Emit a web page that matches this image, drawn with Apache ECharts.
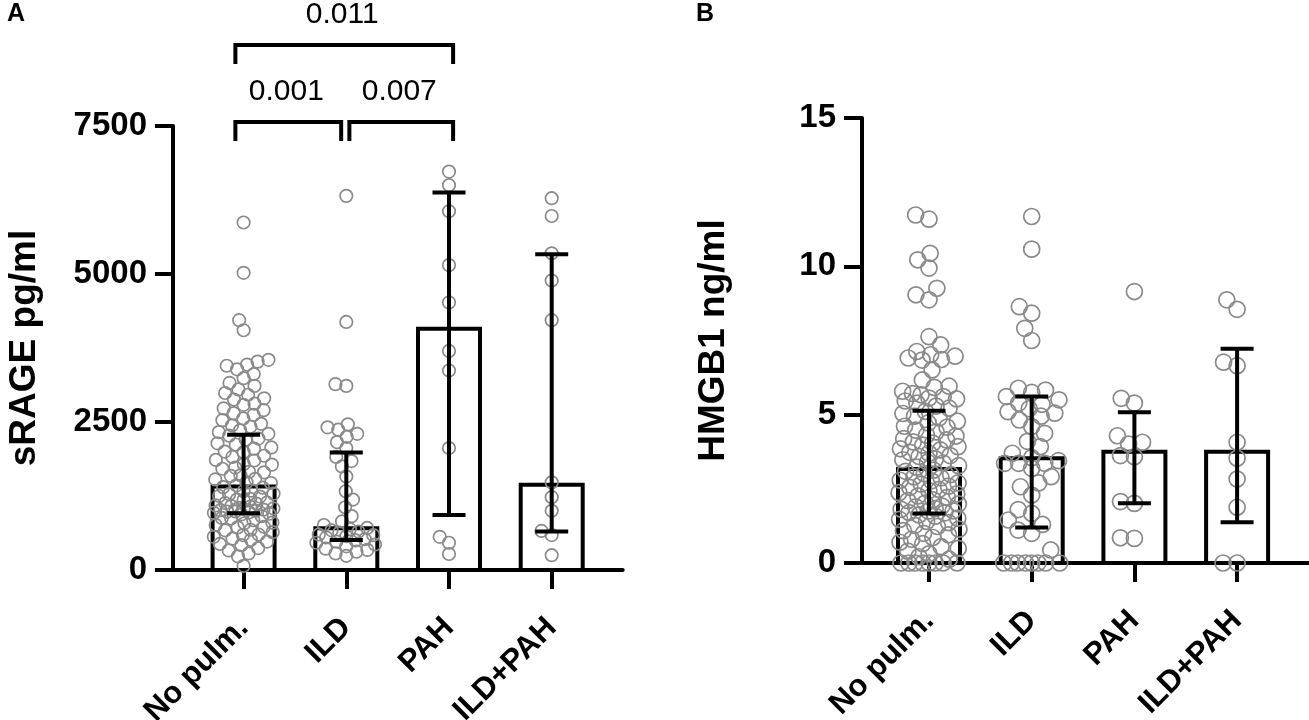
<!DOCTYPE html>
<html>
<head>
<meta charset="utf-8">
<script src="https://cdn.jsdelivr.net/npm/echarts@6/dist/echarts.min.js"></script>
<style>html,body{margin:0;padding:0;background:#fff}#c{width:1309px;height:720px}</style>
</head>
<body>
<div id="c"></div>
<script>
// ---------- data ----------
const categories = ['No pulm.', 'ILD', 'PAH', 'ILD+PAH'];

const srageTicks = [0, 2500, 5000, 7500];
const hmgbTicks = [0, 5, 10, 15];

const srageMedian = [1410, 706, 4075, 1439];
const srageLow = [960, 508, 931, 649];
const srageHigh = [2286, 1986, 6378, 5333];

const hmgbMedian = [3.17, 3.53, 3.75, 3.75];
const hmgbLow = [1.67, 1.20, 2.01, 1.37];
const hmgbHigh = [5.13, 5.61, 5.08, 7.22];

const srageNoPulm = [5870, 5020, 4220, 4050, 3550, 3520, 3470, 3450, 3390, 3310, 3240, 3160, 3110, 3050,
  2990, 2960, 2900, 2880, 2810, 2790, 2730, 2700, 2650, 2620, 2560, 2530, 2470, 2440, 2420, 2360, 2330, 2300,
  2270, 2220, 2200, 2140, 2120, 2070, 2050, 2000, 1990, 1930, 1910, 1860, 1850, 1790, 1780, 1730, 1710, 1660,
  1650, 1600, 1590, 1540, 1530, 1480, 1470, 1430, 1400, 1390, 1340, 1330, 1290, 1280, 1250, 1240, 1200, 1190,
  1180, 1140, 1130, 1120, 1090, 1080, 1070, 1050, 1040, 1030, 1020, 1010, 1000, 990, 985, 975, 965,
  950, 940, 910, 880, 870, 840, 800, 790, 760, 730, 720, 680, 670, 640, 600, 590, 560, 530, 510, 480,
  440, 420, 370, 330, 280, 230, 70];
const srageILD = [6320, 4190, 3140, 3110, 2460, 2410, 2370, 2300, 2250, 2160, 2060, 1910, 1840, 1750, 1580,
  1330, 1190, 1060, 910, 820, 760, 710, 690, 670, 650, 630, 600, 590, 570, 550, 520, 500, 480, 460, 430,
  400, 360, 340, 310, 280, 240];
const sragePAH = [6730, 6500, 6060, 5150, 4520, 3700, 3370, 2060, 560, 460, 270];
const srageILDPAH = [6280, 5980, 5350, 4890, 4220, 1480, 1230, 1000, 660, 590, 250];

const hmgbNoPulm = [11.73, 11.59, 10.44, 10.22, 9.94, 9.26, 9.04, 8.87, 7.63, 7.35, 7.13, 7.02, 6.97, 6.91,
  6.86, 6.84, 6.51, 6.17, 5.96, 5.92, 5.79, 5.71, 5.67, 5.61, 5.56, 5.53, 5.46, 5.39, 5.29, 5.22,
  5.11, 5.04, 4.95, 4.89, 4.78, 4.72, 4.61, 4.58, 4.48, 4.42, 4.31, 4.28, 4.19, 4.15, 4.08, 4.04, 3.97, 3.92,
  3.85, 3.81, 3.73, 3.70, 3.62, 3.59, 3.51, 3.48, 3.40, 3.37, 3.28, 3.23,
  3.13, 3.09, 3.01, 2.98, 2.90, 2.87, 2.79, 2.77, 2.70, 2.66, 2.59, 2.55, 2.48, 2.44, 2.37, 2.33, 2.26, 2.21,
  2.13, 2.10, 2.02, 1.99, 1.92, 1.89, 1.83, 1.81, 1.76, 1.75, 1.70, 1.69,
  1.62, 1.58, 1.51, 1.47, 1.40, 1.36, 1.27, 1.23, 1.14, 1.09, 1.00, 0.95, 0.86, 0.80, 0.70, 0.65, 0.55, 0.49,
  0.40, 0.31, 0.21, 0.13, 0, 0, 0, 0, 0, 0, 0, 0];
const hmgbILD = [11.68, 10.58, 8.64, 8.42, 7.91, 7.50, 5.89, 5.83, 5.75, 5.61, 5.50, 5.39, 5.35, 5.20, 5.10,
  5.05, 4.95, 4.82, 4.60, 4.37, 4.10, 3.92, 3.70, 3.55, 3.45, 3.36, 3.36, 3.36, 3.19, 2.91, 2.70, 2.57, 2.29,
  1.80, 1.67, 1.45, 1.30, 1.11, 1.00, 0.44, 0, 0, 0, 0, 0, 0, 0, 0];
const hmgbPAH = [9.15, 5.55, 5.39, 4.29, 4.07, 4.01, 3.62, 3.58, 2.07, 2.01, 0.85, 0.83];
const hmgbILDPAH = [8.87, 8.55, 6.77, 6.65, 4.07, 3.53, 2.83, 1.88, 0, 0];

const comparisons = [[0, 2, 2], [0, 1, 1], [1, 2, 1]];
const pValues = ['0.011', '0.001', '0.007'];

// ---------- drawing ----------
const FONT = "'Liberation Sans', Arial, Helvetica, sans-serif";
const chart = echarts.init(document.getElementById('c'));

const BAND = 102.7;
const A = { left: 173, top: 126, width: 449.7, height: 444, first: 70.6 };
const B = { left: 862, top: 118, width: 447, height: 445, first: 67 };

function valueX(g, grid) {
  const min = -g.first / BAND;
  return { gridIndex: grid, type: 'value', min: min, max: min + g.width / BAND,
    axisLine: { show: true, onZero: false, lineStyle: { color: '#000', width: 4 } },
    axisTick: { show: false }, axisLabel: { show: false }, splitLine: { show: false } };
}
function catX(grid) {
  return { gridIndex: grid, type: 'category', data: categories, boundaryGap: true,
    axisLine: { show: false },
    axisTick: { show: true, alignWithLabel: true, length: 19, lineStyle: { color: '#000', width: 4 } },
    axisLabel: { interval: 0, rotate: 45, fontSize: 31, fontWeight: 'bold', color: '#000', fontFamily: FONT, margin: 53 },
    splitLine: { show: false } };
}
function valY(grid, ticks, name) {
  return { gridIndex: grid, type: 'value', min: ticks[0], max: ticks[ticks.length - 1], interval: ticks[1] - ticks[0],
    axisLine: { show: true, onZero: false, lineStyle: { color: '#000', width: 4 } },
    axisTick: { show: true, length: 18, lineStyle: { color: '#000', width: 4 } },
    axisLabel: { fontSize: 33, fontWeight: 'bold', color: '#000', fontFamily: FONT, margin: 26,
      formatter: function (v) { return String(v); } },
    splitLine: { show: false },
    name: name, nameLocation: 'middle', nameRotate: 90, nameGap: 130,
    nameTextStyle: { fontSize: 37, fontWeight: 'bold', color: '#000', fontFamily: FONT } };
}
function hiddenY(grid) {
  return { gridIndex: grid, type: 'value', show: false, min: 0, max: 1 };
}

function barSeries(xi, yi, med) {
  return { type: 'custom', xAxisIndex: xi, yAxisIndex: yi, z: 1,
    data: med.map((v, i) => [i, v]),
    renderItem: function (p, api) {
      const p0 = api.coord([api.value(0), 0]);
      const p1 = api.coord([api.value(0), api.value(1)]);
      return { type: 'rect', shape: { x: p0[0] - 31, y: p1[1], width: 62, height: p0[1] - p1[1] },
        style: { fill: '#fff', stroke: '#000', lineWidth: 4 } };
    } };
}
function errSeries(xi, yi, lo, hi) {
  return { type: 'custom', xAxisIndex: xi, yAxisIndex: yi, z: 5,
    data: lo.map((v, i) => [i, v, hi[i]]),
    encode: { x: 0, y: [1, 2] },
    renderItem: function (p, api) {
      const pl = api.coord([api.value(0), api.value(1)]);
      const ph = api.coord([api.value(0), api.value(2)]);
      const c = 16.5, st = { stroke: '#000', lineWidth: 4 };
      return { type: 'group', children: [
        { type: 'line', shape: { x1: pl[0], y1: pl[1], x2: ph[0], y2: ph[1] }, style: st },
        { type: 'line', shape: { x1: ph[0] - c, y1: ph[1], x2: ph[0] + c, y2: ph[1] }, style: st },
        { type: 'line', shape: { x1: pl[0] - c, y1: pl[1], x2: pl[0] + c, y2: pl[1] }, style: st }
      ] };
    } };
}
function bracketSeries() {
  return { type: 'custom', xAxisIndex: 0, yAxisIndex: 0, z: 6, clip: false,
    data: comparisons.map((c, k) => [c[0], c[1], c[2], k]),
    renderItem: function (p, api) {
      const i = api.value(0), j = api.value(1), lvl = api.value(2), k = api.value(3);
      const x1 = api.coord([i + (i === 0 ? -0.08 : 0.03), 0])[0];
      const x2 = api.coord([j + (j === 2 ? 0.04 : -0.05), 0])[0];
      const yTop = api.coord([0, srageTicks[srageTicks.length - 1]])[1] - 4 - (lvl - 1) * 77;
      const st = { stroke: '#000', lineWidth: 4, fill: null };
      return { type: 'group', children: [
        { type: 'polyline', shape: { points: [[x1, yTop + 19], [x1, yTop], [x2, yTop], [x2, yTop + 19]] }, style: st },
        { type: 'text', x: (x1 + x2) / 2 - 2, y: yTop - 30,
          style: { text: pValues[k], fontSize: 30, fontFamily: FONT, fill: '#000', align: 'center', verticalAlign: 'middle' } }
      ] };
    } };
}

const baseOption = {
  animation: false,
  backgroundColor: '#fff',
  title: [
    { text: 'A', left: 7, top: 2, padding: 0, textStyle: { fontSize: 25, fontWeight: 'bold', color: '#000', fontFamily: FONT } },
    { text: 'B', left: 696, top: 2, padding: 0, textStyle: { fontSize: 25, fontWeight: 'bold', color: '#000', fontFamily: FONT } }
  ],
  grid: [
    { left: A.left, top: A.top, width: A.width, height: A.height, outerBoundsMode: 'none' },
    { left: A.left + A.first - BAND / 2, top: A.top, width: BAND * 4, height: A.height, outerBoundsMode: 'none' },
    { left: B.left, top: B.top, width: B.width, height: B.height, outerBoundsMode: 'none' },
    { left: B.left + B.first - BAND / 2, top: B.top, width: BAND * 4, height: B.height, outerBoundsMode: 'none' }
  ],
  xAxis: [valueX(A, 0), catX(1), valueX(B, 2), catX(3)],
  yAxis: [valY(0, srageTicks, 'sRAGE pg/ml'), hiddenY(1), valY(2, hmgbTicks, 'HMGB1 ng/ml'), hiddenY(3)],
  series: [
    barSeries(0, 0, srageMedian),
    errSeries(0, 0, srageLow, srageHigh),
    bracketSeries(),
    barSeries(2, 2, hmgbMedian),
    errSeries(2, 2, hmgbLow, hmgbHigh)
  ]
};
chart.setOption(baseOption);

// beeswarm placement of the dots, using the library's pixel scales
function swarm(gridIndex, catIdx, values, minDist, maxHalf) {
  const px0 = chart.convertToPixel({ gridIndex: gridIndex }, [0, 0]);
  const px1 = chart.convertToPixel({ gridIndex: gridIndex }, [1, 0]);
  const unit = px1[0] - px0[0];
  const pts = values.map(v => ({ v: v, py: chart.convertToPixel({ gridIndex: gridIndex }, [0, v])[1], x: 0 }));
  pts.sort((a, b) => b.py - a.py);
  const placed = [];
  pts.forEach(p => {
    let md = minDist, chosen = null, fallback = null;
    for (let attempt = 0; attempt < 8 && chosen === null; attempt++) {
      const cands = [0];
      placed.forEach(q => {
        const dy = Math.abs(p.py - q.py);
        if (dy < md) { const dx = Math.sqrt(md * md - dy * dy); cands.push(q.x + dx, q.x - dx); }
      });
      cands.sort((a, b) => (Math.abs(a) - Math.abs(b)) || (a - b));
      for (const c of cands) {
        let ok = true;
        for (const q of placed) {
          const dy = p.py - q.py, dx = c - q.x;
          if (dx * dx + dy * dy < md * md - 1e-6) { ok = false; break; }
        }
        if (ok) {
          if (Math.abs(c) <= maxHalf) chosen = c;
          else if (fallback === null) fallback = c;
          break;
        }
      }
      md *= 0.85;
    }
    if (chosen === null) chosen = Math.max(-maxHalf, Math.min(maxHalf, fallback || 0));
    p.x = chosen;
    placed.push(p);
  });
  return pts.map(p => [catIdx + p.x / unit, p.v]);
}
function scatter(xi, yi, data, size) {
  return { type: 'scatter', xAxisIndex: xi, yAxisIndex: yi, z: 3, symbol: 'circle', symbolSize: size,
    data: data, silent: true,
    itemStyle: { color: 'rgba(255,255,255,0)', borderColor: '#8a8a8a', borderWidth: 1.7, opacity: 1 } };
}
const srageGroups = [srageNoPulm, srageILD, sragePAH, srageILDPAH];
const hmgbGroups = [hmgbNoPulm, hmgbILD, hmgbPAH, hmgbILDPAH];
let aData = [], bData = [];
srageGroups.forEach((g, i) => { aData = aData.concat(swarm(0, i, g, 11, 30)); });
hmgbGroups.forEach((g, i) => { bData = bData.concat(swarm(2, i, g, 14, 30)); });
const s = baseOption.series.slice();
s.push(scatter(0, 0, aData, 12.5));
s.push(scatter(2, 2, bData, 16));
chart.setOption({ series: s });
</script>
</body>
</html>
